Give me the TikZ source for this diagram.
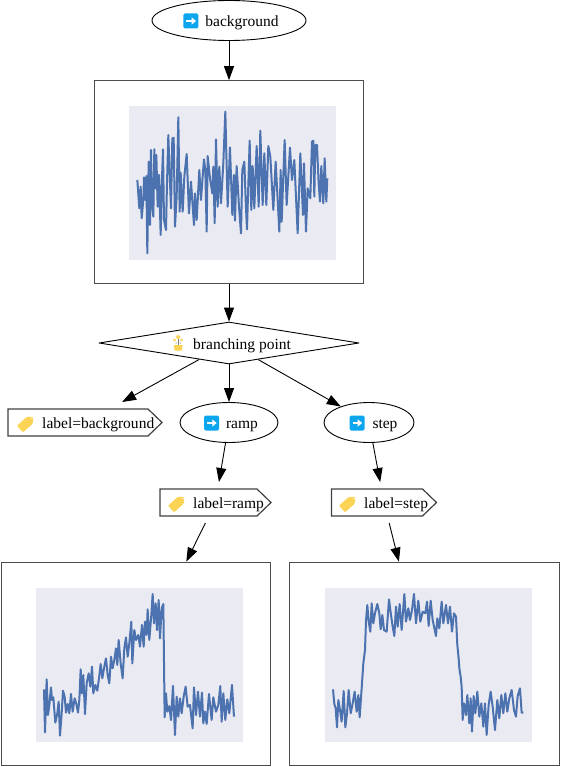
\documentclass[tikz,border=0pt]{standalone}
\usepackage{fontspec}
\setmainfont{Liberation Serif}
\usetikzlibrary{arrows.meta, shapes.geometric, shapes.symbols}
\definecolor{IconBlue}{HTML}{0BA6EE}
\definecolor{IconYellow}{HTML}{FBD455}
\definecolor{PanelGray}{HTML}{EAEAF2}
\definecolor{TraceBlue}{HTML}{4C72B0}
\newcommand*{\ArrowIcon}{\tikz[baseline=2pt,x=1pt,y=1pt]{%
    \fill[IconBlue, rounded corners=1.5pt] (0,0) rectangle (15,15);
    \draw[white, line width=2pt] (3,7.5) -- (9,7.5);
    \fill[white] (8.2,3.8) -- (12.6,7.5) -- (8.2,11.2) -- cycle;
}}
\newcommand*{\TagIcon}{\tikz[baseline=2pt,x=1pt,y=1pt]{%
    \path (0,0) rectangle (15,15);
    \fill[IconYellow, rotate around={42:(7.5,7.5)}, rounded corners=1pt]
        (-1.5,3) -- (11.5,3) -- (16.5,7.5) -- (11.5,12) -- (-1.5,12) -- cycle;
    \fill[white] (12.8,12.2) circle (0.8);
}}
\newcommand*{\PlantIcon}{\tikz[baseline=2pt,x=1pt,y=1pt]{%
    \fill[IconYellow] (0.5,6) -- (9.5,6) -- (8.5,0.5) -- (1.5,0.5) -- cycle;
    \draw[gray, line width=0.7pt] (5,6) -- (5,12);
    \fill[IconYellow] (5,14) circle (2) (1.5,11) circle (1.6) (8.5,11) circle (1.6);
    \fill[gray!70] (3,8) circle (0.8) (7,8) circle (0.8);
}}
% args: panel centre, trace points (as zoomed in 3x)
\newcommand*{\DrawPlot}[2]{%
    \fill[PanelGray] (#1) ++(-103.5,-77) rectangle ++(207,154);
    \draw[tracestyle] #2;
}
\tikzset{
    tracestyle/.style={TraceBlue, line width=2pt, line join=round},
    edgestyle/.style={draw, line width=0.9pt, -{Triangle[length=14pt,width=10pt]}},
    ovalnode/.style={ellipse, draw, line width=0.9pt, inner sep=0pt, minimum height=40pt},
    tagnode/.style={signal, signal to=east, signal pointer angle=88, draw=black!75, line width=1.2pt,
        inner sep=0pt, minimum height=27pt},
    plotnode/.style={rectangle, draw=black!70, line width=0.7pt, minimum width=269.5pt, minimum height=203pt},
    txt/.style={font=\fontsize{15.5}{18}\selectfont, text height=15pt, text depth=3pt},
}
\begin{document}
\begin{tikzpicture}[x=1pt, y=-1pt]
    \useasboundingbox (0,0) rectangle (561,767);

    \node[ovalnode, txt, minimum width=154pt] (background) at (229,20.5)
        {\hspace*{4pt}\ArrowIcon\hspace{7pt}background};
    \node[plotnode] (bgplot) at (229,182) {};
    \node[diamond, aspect=6.19, draw, line width=0.9pt, line join=round, inner sep=0pt, txt, minimum width=260pt, minimum height=42pt]
        (branch) at (229,343) {\hspace*{6pt}\PlantIcon\hspace{10pt}branching point};
    \node[tagnode, txt, minimum width=154pt] (tagbg) at (78,422.5)
        {\makebox[122pt][l]{\TagIcon\hspace{8pt}label=background}};
    \node[ovalnode, txt, minimum width=98pt] (ramp) at (229,422.5)
        {\hspace*{4pt}\ArrowIcon\hspace{7pt}ramp};
    \node[ovalnode, txt, minimum width=90pt] (step) at (369,422.5)
        {\hspace*{9pt}\ArrowIcon\hspace{8pt}step};
    \node[tagnode, txt, minimum width=111pt] (tagramp) at (208.5,502.5)
        {\makebox[81pt][l]{\TagIcon\hspace{8pt}label=ramp}};
    \node[tagnode, txt, minimum width=105pt] (tagstep) at (377,502.5)
        {\makebox[76pt][l]{\TagIcon\hspace{8pt}label=step}};
    \node[plotnode] (rampplot) at (136,663.5) {};
    \node[plotnode] (stepplot) at (424.5,663.5) {};

    \draw[edgestyle] (background) -- (bgplot);
    \draw[edgestyle] (bgplot) -- (branch);
    \draw[edgestyle, shorten >=42.4pt] (branch) -- ([xshift=7pt]tagbg.center);
    \draw[edgestyle] (branch) -- (ramp);
    \draw[edgestyle] (branch) -- (step);
    \draw[edgestyle, shorten >=20.8pt] (ramp) -- ([xshift=7pt]tagramp.center);
    \draw[edgestyle, shorten >=20.8pt] (step) -- ([xshift=7pt]tagstep.center);
    \draw[edgestyle, shorten <=22.9pt] ([xshift=7pt]tagramp.center) -- (rampplot);
    \draw[edgestyle, shorten <=21.2pt] ([xshift=7pt]tagstep.center) -- (stepplot);

    \DrawPlot{232.5,183}{[shift={(120,100)}, x=0.3333pt, y=-0.3333pt] plot coordinates {
        (52,240) (58,325) (62,260) (65,355) (70,300) (72,232) (76,300) (79,228) (82,460) (86,185)
        (90,375) (93,150) (96,315) (100,350) (103,148) (106,265) (109,165) (113,320) (117,225) (122,405)
        (125,265) (129,148) (132,360) (138,390) (141,250) (145,105) (149,220) (153,325) (157,115) (161,113)
        (165,380) (170,290) (175,52) (179,335) (182,218) (188,335) (193,230) (200,162) (207,340) (213,245)
        (222,375) (225,280) (230,360) (234,285) (238,210) (243,300) (248,230) (252,178) (256,210) (260,395)
        (263,168) (270,235) (277,280) (280,200) (284,370) (288,118) (293,320) (298,200) (303,310) (310,190)
        (316,35) (323,320) (330,142) (337,345) (342,225) (345,362) (350,198) (357,320) (363,400) (367,210)
        (373,185) (377,300) (381,388) (389,122) (394,330) (398,198) (403,325) (410,138) (416,320) (421,92)
        (428,315) (433,160) (439,315) (445,138) (451,170) (460,330) (467,185) (472,280) (478,395) (482,210)
        (485,365) (494,120) (500,315) (510,143) (516,240) (523,180) (533,400) (541,160) (549,345) (552,190)
        (558,395) (563,265) (571,295) (576,125) (580,122) (583,290) (586,135) (591,135) (596,250) (600,305)
        (604,198) (610,310) (614,175) (619,305) (622,235)}}
    \DrawPlot{139.5,665}{[shift={(30,580)}, x=0.3333pt, y=-0.3333pt] plot coordinates {
        (42,328) (45,457) (50,298) (54,405) (58,375) (63,322) (66,360) (70,352) (76,428) (82,400)
        (86,365) (90,467) (95,400) (99,332) (104,350) (108,398) (113,372) (118,400) (123,342) (128,395)
        (134,355) (139,372) (144,398) (148,360) (152,268) (156,340) (160,285) (165,402) (170,310) (176,280)
        (181,320) (186,260) (190,340) (196,315) (202,332) (207,295) (212,252) (217,295) (222,265) (228,235)
        (233,285) (238,310) (243,230) (248,265) (253,240) (258,205) (262,255) (266,180) (272,250) (278,295)
        (283,205) (288,172) (293,230) (298,190) (304,125) (307,250) (313,150) (318,180) (325,165) (330,200)
        (336,135) (341,200) (345,125) (350,165) (353,88) (358,180) (364,105) (368,42) (372,130) (377,70)
        (381,150) (386,60) (390,175) (395,85) (400,72) (404,412) (408,340) (412,395) (418,378) (423,420)
        (429,318) (435,465) (440,350) (445,410) (450,355) (455,400) (461,350) (467,320) (473,380) (480,375)
        (488,445) (492,322) (498,405) (504,335) (510,410) (516,338) (520,430) (525,395) (530,432) (537,342)
        (545,420) (550,352) (558,395) (565,375) (571,318) (575,425) (580,340) (586,420) (592,358) (598,400)
        (606,315) (612,410)}}
    \DrawPlot{428.5,665}{[shift={(320,580)}, x=0.3333pt, y=-0.3333pt] plot coordinates {
        (39,328) (43,372) (47,385) (51,442) (55,360) (60,390) (65,425) (71,333) (76,442) (81,400)
        (86,330) (92,400) (98,370) (104,335) (110,395) (115,345) (119,412) (125,325) (130,250) (135,210)
        (138,122) (142,75) (146,125) (151,155) (155,70) (160,130) (165,100) (172,72) (178,100) (182,148)
        (187,105) (192,150) (200,155) (207,58) (213,105) (218,140) (223,168) (228,80) (233,140) (239,72)
        (245,150) (253,42) (258,125) (265,85) (270,120) (276,90) (282,42) (288,130) (295,62) (301,125)
        (308,95) (316,100) (321,65) (326,138) (332,62) (338,120) (348,168) (352,115) (358,145) (365,65)
        (370,130) (378,75) (384,130) (390,80) (396,155) (402,100) (408,110) (412,195) (416,235) (418,265)
        (422,290) (425,320) (428,420) (432,370) (438,405) (442,345) (448,430) (452,355) (456,455) (461,348)
        (466,400) (472,335) (478,410) (484,370) (490,440) (495,370) (500,465) (506,375) (512,335) (518,380)
        (525,450) (532,360) (538,415) (544,345) (550,400) (556,340) (562,395) (568,355) (575,330) (582,390)
        (588,410) (593,348) (600,325) (605,398) (610,398)}}
\end{tikzpicture}
\end{document}
